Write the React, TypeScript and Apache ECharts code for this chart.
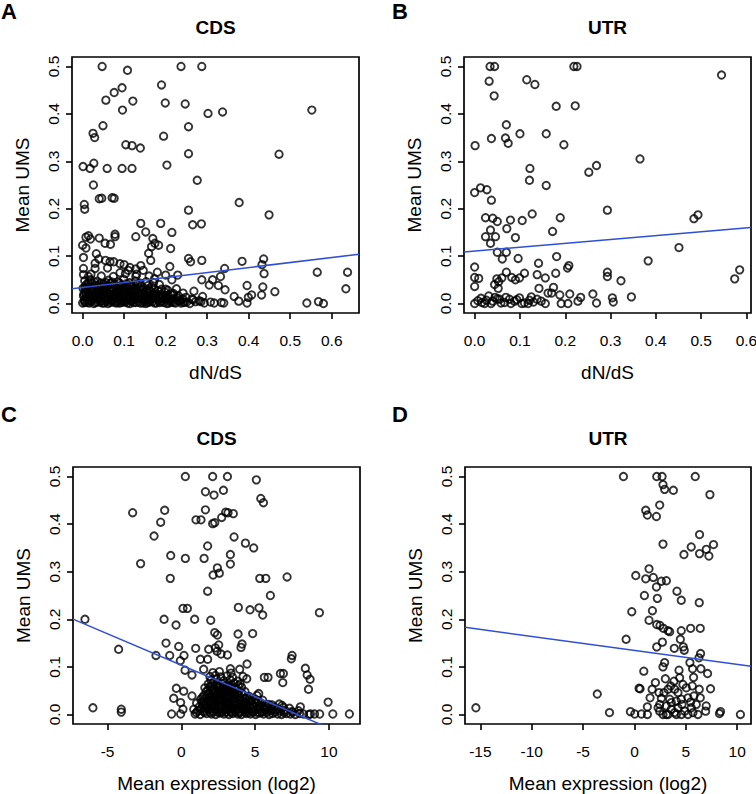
import React, { useEffect, useRef } from "react";
import * as echarts from "echarts";

const FONT = "'Liberation Sans', Arial, Helvetica, sans-serif";

// ---- tick labels / axis ranges ----
const umsTicks = [0, 0.1, 0.2, 0.3, 0.4, 0.5];
const dndsTicks = [0, 0.1, 0.2, 0.3, 0.4, 0.5, 0.6];
const exprTicksC = [-5, 0, 5, 10];
const exprTicksD = [-15, -10, -5, 0, 5, 10];

const umsRange = [-0.02, 0.52];
const dndsRangeA = [-0.0256, 0.6656];
const dndsRangeB = [-0.0235, 0.61];
const exprRangeC = [-7.34, 12.1];
const exprRangeD = [-16.5, 11.35];

// ---- regression fits: [intercept, slope] ----
const fitA = [0.0337, 0.1056];
const fitB = [0.1105, 0.082];
const fitC = [0.1035, -0.01318];
const fitD = [0.1347, -0.00293];

// ---- A: CDS, dN/dS vs Mean UMS ----
const cdsDndsSparse: [number, number][] = [
  [0.047, 0.5], [0.108, 0.492], [0.237, 0.5], [0.287, 0.5], [0.19, 0.461], [0.095, 0.455],
  [0.076, 0.445], [0.056, 0.429], [0.121, 0.427], [0.199, 0.423], [0.247, 0.421], [0.096, 0.408],
  [0.302, 0.401], [0.337, 0.404], [0.552, 0.408], [0.049, 0.375], [0.255, 0.373], [0.025, 0.359],
  [0.029, 0.35], [0.195, 0.353], [0.104, 0.335], [0.119, 0.333], [0.139, 0.328], [0.255, 0.316],
  [0.473, 0.315], [0.001, 0.289], [0.018, 0.285], [0.027, 0.296], [0.059, 0.285], [0.095, 0.285],
  [0.119, 0.285], [0.203, 0.292], [0.276, 0.26], [0.026, 0.25], [0.04, 0.221], [0.046, 0.222],
  [0.071, 0.223], [0.076, 0.222], [0.004, 0.209], [0.005, 0.199], [0.255, 0.197], [0.377, 0.213],
  [0.449, 0.187], [0.14, 0.169], [0.188, 0.169], [0.265, 0.166], [0.286, 0.168], [0.215, 0.15],
  [0.152, 0.151], [0.008, 0.14], [0.014, 0.143], [0.019, 0.136], [0.04, 0.138], [0.078, 0.146],
  [0.078, 0.141], [0.128, 0.141], [0.169, 0.137], [0.174, 0.127], [0.183, 0.123], [0.166, 0.12],
  [0.054, 0.127], [0.067, 0.125], [0.0, 0.123], [0.008, 0.117], [0.212, 0.116], [0.159, 0.106],
  [0.033, 0.105], [0.164, 0.091], [0.002, 0.097], [0.039, 0.094], [0.055, 0.091], [0.066, 0.088],
  [0.075, 0.088], [0.09, 0.084], [0.255, 0.095], [0.26, 0.088], [0.287, 0.091], [0.384, 0.089],
  [0.436, 0.094], [0.432, 0.082], [0.342, 0.074], [0.002, 0.074], [0.03, 0.074], [0.114, 0.076],
  [0.128, 0.073], [0.146, 0.07], [0.21, 0.078], [0.437, 0.063], [0.565, 0.066], [0.638, 0.066],
  [0.002, 0.061], [0.014, 0.057], [0.074, 0.057], [0.103, 0.063], [0.128, 0.057], [0.229, 0.06],
  [0.332, 0.057], [0.313, 0.05], [0.287, 0.05], [0.215, 0.05], [0.173, 0.052], [0.396, 0.038],
  [0.434, 0.035], [0.305, 0.039], [0.327, 0.038], [0.463, 0.025], [0.634, 0.031], [0.343, 0.029],
  [0.365, 0.015], [0.376, 0.005], [0.396, 0.001], [0.399, 0.013], [0.407, 0.018], [0.431, 0.018],
  [0.54, 0.001], [0.568, 0.004], [0.58, 0.0], [0.317, 0.001], [0.34, 0.001], [0.289, 0.015],
  [0.268, 0.026], [0.266, 0.008], [0.246, 0.003],
  [0.02, 0.062], [0.045, 0.058], [0.09, 0.065], [0.11, 0.07], [0.13, 0.062], [0.16, 0.058],
  [0.18, 0.066], [0.2, 0.06], [0.14, 0.08], [0.06, 0.075], [0.03, 0.085], [0.1, 0.082],
];
const cdsDndsDense: [number, number][] = [
  [0.0, 0.001], [0.011, 0.002], [0.027, 0.0], [0.036, 0.003], [0.052, 0.001], [0.061, 0.0],
  [0.077, 0.002], [0.089, 0.001], [0.098, 0.003], [0.114, 0.0], [0.123, 0.002], [0.139, 0.001],
  [0.152, 0.0], [0.161, 0.003], [0.178, 0.001], [0.186, 0.002], [0.203, 0.0], [0.215, 0.003],
  [0.224, 0.001], [0.243, 0.002], [0.258, 0.0], [0.272, 0.004], [0.293, 0.001], [0.308, 0.003],
  [0.334, 0.002],
  [0.005, 0.002], [0.016, 0.001], [0.031, 0.002], [0.047, 0.001], [0.066, 0.002], [0.082, 0.001],
  [0.093, 0.002], [0.108, 0.001], [0.128, 0.002], [0.145, 0.001], [0.157, 0.002], [0.173, 0.001],
  [0.195, 0.002], [0.208, 0.001], [0.219, 0.002], [0.237, 0.001],
  [0.006, 0.004], [0.021, 0.005], [0.042, 0.003], [0.057, 0.005], [0.071, 0.004], [0.084, 0.005],
  [0.103, 0.004], [0.116, 0.005], [0.134, 0.003], [0.148, 0.005], [0.168, 0.004], [0.191, 0.005],
  [0.211, 0.004], [0.232, 0.005], [0.251, 0.003], [0.285, 0.004],
  [0.004, 0.008], [0.018, 0.007], [0.031, 0.01], [0.045, 0.006], [0.058, 0.009], [0.069, 0.008],
  [0.083, 0.011], [0.094, 0.007], [0.107, 0.009], [0.119, 0.006], [0.131, 0.01], [0.146, 0.008],
  [0.157, 0.007], [0.171, 0.011], [0.183, 0.006], [0.196, 0.009], [0.209, 0.008], [0.221, 0.01],
  [0.236, 0.007], [0.263, 0.009], [0.281, 0.006],
  [0.01, 0.01], [0.026, 0.009], [0.04, 0.01], [0.053, 0.011], [0.072, 0.01], [0.087, 0.009],
  [0.1, 0.01], [0.113, 0.011], [0.127, 0.009], [0.141, 0.01], [0.16, 0.009], [0.176, 0.01],
  [0.19, 0.011], [0.215, 0.009], [0.241, 0.01],
  [0.009, 0.012], [0.024, 0.011], [0.038, 0.013], [0.05, 0.012], [0.064, 0.011], [0.076, 0.013],
  [0.088, 0.012], [0.111, 0.011], [0.124, 0.013], [0.137, 0.012], [0.151, 0.011], [0.164, 0.013],
  [0.188, 0.012], [0.201, 0.011], [0.227, 0.012],
  [0.002, 0.016], [0.014, 0.018], [0.029, 0.015], [0.041, 0.017], [0.055, 0.014], [0.066, 0.019],
  [0.079, 0.016], [0.092, 0.015], [0.104, 0.018], [0.117, 0.016], [0.128, 0.014], [0.142, 0.019],
  [0.155, 0.016], [0.167, 0.015], [0.181, 0.017], [0.193, 0.014], [0.206, 0.018], [0.231, 0.016],
  [0.249, 0.013],
  [0.008, 0.018], [0.022, 0.017], [0.036, 0.019], [0.05, 0.018], [0.071, 0.017], [0.085, 0.018],
  [0.098, 0.017], [0.112, 0.019], [0.122, 0.018], [0.135, 0.017], [0.16, 0.018], [0.174, 0.019],
  [0.199, 0.017], [0.218, 0.018],
  [0.003, 0.02], [0.017, 0.021], [0.033, 0.019], [0.046, 0.02], [0.063, 0.021], [0.075, 0.02],
  [0.097, 0.021], [0.109, 0.019], [0.132, 0.02], [0.144, 0.021], [0.17, 0.02], [0.188, 0.019],
  [0.212, 0.02],
  [0.007, 0.024], [0.021, 0.026], [0.034, 0.023], [0.048, 0.025], [0.06, 0.022], [0.073, 0.027],
  [0.086, 0.024], [0.101, 0.023], [0.112, 0.026], [0.125, 0.024], [0.137, 0.022], [0.149, 0.025],
  [0.162, 0.027], [0.175, 0.023], [0.198, 0.024], [0.219, 0.021], [0.242, 0.022],
  [0.012, 0.028], [0.025, 0.029], [0.039, 0.027], [0.053, 0.028], [0.065, 0.029], [0.091, 0.028],
  [0.117, 0.027], [0.129, 0.029], [0.155, 0.028], [0.181, 0.027], [0.205, 0.028],
  [0.006, 0.03], [0.022, 0.03], [0.035, 0.029], [0.05, 0.031], [0.076, 0.03], [0.087, 0.029],
  [0.102, 0.03], [0.115, 0.029], [0.128, 0.031], [0.141, 0.03], [0.16, 0.029], [0.2, 0.03],
  [0.001, 0.032], [0.016, 0.034], [0.028, 0.031], [0.043, 0.033], [0.056, 0.03], [0.07, 0.035],
  [0.081, 0.032], [0.096, 0.031], [0.109, 0.034], [0.121, 0.03], [0.135, 0.033], [0.147, 0.031],
  [0.172, 0.032], [0.19, 0.03], [0.226, 0.031],
  [0.006, 0.036], [0.032, 0.037], [0.047, 0.036], [0.062, 0.037], [0.088, 0.036], [0.113, 0.037],
  [0.141, 0.036], [0.166, 0.035],
  [0.009, 0.04], [0.024, 0.042], [0.038, 0.039], [0.051, 0.041], [0.067, 0.043], [0.078, 0.04],
  [0.093, 0.038], [0.106, 0.042], [0.118, 0.039], [0.133, 0.041], [0.158, 0.038], [0.185, 0.04],
  [0.014, 0.044], [0.029, 0.045], [0.044, 0.043], [0.057, 0.044], [0.072, 0.045], [0.089, 0.043],
  [0.113, 0.044], [0.139, 0.043], [0.171, 0.044],
  [0.005, 0.048], [0.019, 0.05], [0.035, 0.047], [0.062, 0.049], [0.085, 0.046], [0.099, 0.051],
  [0.127, 0.047], [0.153, 0.046],
];

// ---- B: UTR, dN/dS vs Mean UMS ----
const utrDndsPoints: [number, number][] = [
  [0.034, 0.5], [0.044, 0.5], [0.032, 0.469], [0.043, 0.438], [0.115, 0.472], [0.133, 0.462],
  [0.219, 0.5], [0.226, 0.5], [0.545, 0.482], [0.18, 0.416], [0.222, 0.417], [0.07, 0.377],
  [0.037, 0.348], [0.068, 0.349], [0.074, 0.338], [0.1, 0.358], [0.158, 0.358], [0.197, 0.335],
  [0.001, 0.333], [0.365, 0.305], [0.122, 0.285], [0.121, 0.26], [0.158, 0.249], [0.252, 0.277],
  [0.269, 0.291], [0.0, 0.234], [0.013, 0.244], [0.027, 0.24], [0.037, 0.218], [0.293, 0.197],
  [0.024, 0.181], [0.04, 0.18], [0.05, 0.173], [0.079, 0.176], [0.105, 0.175], [0.127, 0.189],
  [0.189, 0.181], [0.071, 0.158], [0.035, 0.155], [0.024, 0.141], [0.046, 0.141], [0.035, 0.127],
  [0.09, 0.139], [0.172, 0.152], [0.484, 0.179], [0.493, 0.187], [0.451, 0.118], [0.383, 0.09],
  [0.585, 0.071], [0.574, 0.052], [0.05, 0.108], [0.07, 0.108], [0.061, 0.094], [0.096, 0.095],
  [0.181, 0.099], [0.141, 0.085], [0.0, 0.077], [0.0, 0.055], [0.009, 0.053], [0.0, 0.036],
  [0.07, 0.066], [0.11, 0.064], [0.138, 0.061], [0.179, 0.064], [0.205, 0.075], [0.208, 0.08],
  [0.293, 0.066], [0.293, 0.057], [0.323, 0.048], [0.049, 0.052], [0.053, 0.046], [0.06, 0.054],
  [0.082, 0.055], [0.09, 0.05], [0.099, 0.054], [0.044, 0.04], [0.052, 0.032], [0.156, 0.054],
  [0.142, 0.032], [0.162, 0.022], [0.174, 0.034], [0.17, 0.022], [0.188, 0.018], [0.21, 0.02],
  [0.234, 0.013], [0.261, 0.02], [0.346, 0.014], [0.304, 0.012], [0.306, 0.003], [0.228, 0.005],
  [0.269, 0.001], [0.156, 0.0], [0.191, 0.0], [0.206, 0.0],
  [0.0, 0.0], [0.007, 0.006], [0.016, 0.002], [0.026, 0.007], [0.031, 0.016], [0.04, 0.005],
  [0.05, 0.01], [0.058, 0.001], [0.069, 0.013], [0.08, 0.0], [0.088, 0.005], [0.099, 0.012],
  [0.11, 0.001], [0.121, 0.007], [0.13, 0.003], [0.138, 0.009], [0.147, 0.005], [0.066, 0.002],
  [0.022, 0.0], [0.036, 0.0], [0.055, 0.009], [0.077, 0.009], [0.104, 0.0], [0.118, 0.0],
  [0.125, 0.014], [0.014, 0.011], [0.045, 0.013], [0.093, 0.008],
];

// ---- C: CDS, Mean expression (log2) vs Mean UMS ----
const cdsExprSparse: [number, number][] = [
  [0.27, 0.5], [2.12, 0.5], [3.12, 0.5], [5.08, 0.493], [1.63, 0.468], [2.21, 0.461], [2.85, 0.471],
  [5.38, 0.454], [5.56, 0.445], [-3.3, 0.424], [-1.13, 0.429], [-1.4, 0.404], [0.99, 0.409],
  [1.33, 0.409], [1.63, 0.43], [2.12, 0.401], [2.26, 0.403], [2.73, 0.414], [3.0, 0.425],
  [3.16, 0.424], [3.52, 0.422], [-1.85, 0.375], [3.57, 0.373], [1.78, 0.354], [4.34, 0.36],
  [4.9, 0.35], [-2.76, 0.317], [-0.72, 0.334], [0.27, 0.328], [1.54, 0.328], [3.32, 0.336],
  [3.32, 0.316], [2.44, 0.308], [2.57, 0.297], [2.15, 0.293], [-0.75, 0.286], [5.31, 0.286],
  [5.72, 0.286], [7.16, 0.289], [1.78, 0.259], [6.03, 0.25], [0.11, 0.223], [0.41, 0.223],
  [3.86, 0.225], [4.65, 0.22], [5.26, 0.224], [5.51, 0.209], [9.35, 0.214], [-6.53, 0.2],
  [-1.17, 0.2], [0.9, 0.2], [1.99, 0.198], [-0.36, 0.188], [2.26, 0.172], [2.44, 0.167],
  [3.84, 0.169], [4.83, 0.17], [-1.04, 0.15], [-4.25, 0.137], [-1.72, 0.124], [-0.79, 0.124],
  [-0.18, 0.143], [0.18, 0.124], [0.97, 0.139], [1.85, 0.137], [2.3, 0.14], [2.53, 0.146],
  [2.42, 0.133], [2.69, 0.127], [3.12, 0.125], [4.11, 0.148], [4.04, 0.141], [7.5, 0.124],
  [7.45, 0.117], [-0.07, 0.113], [1.29, 0.116], [1.78, 0.116], [4.45, 0.106], [8.4, 0.097],
  [8.52, 0.083], [8.72, 0.074], [8.61, 0.053], [6.71, 0.086], [6.91, 0.086], [6.87, 0.067],
  [5.62, 0.078], [5.87, 0.078], [0.25, 0.093], [0.72, 0.083], [1.51, 0.095], [3.32, 0.096],
  [3.95, 0.095], [4.43, 0.075], [-0.34, 0.055], [0.16, 0.049], [-0.52, 0.034], [-0.05, 0.025],
  [0.72, 0.039], [0.84, 0.011], [-0.66, 0.001], [-0.05, 0.001], [0.11, 0.011], [-5.99, 0.014],
  [-4.07, 0.011], [-4.07, 0.005], [9.94, 0.026], [10.26, 0.001], [11.38, 0.001], [9.37, 0.001],
  [8.06, 0.016], [8.74, 0.001], [5.24, 0.044], [6.82, 0.019],
];
const cdsExprDense: [number, number][] = [
  [0.93, 0.001], [1.28, 0.0], [1.71, 0.002], [2.04, 0.001], [2.33, 0.0], [2.61, 0.003], [2.88, 0.001],
  [3.22, 0.0], [3.49, 0.002], [3.83, 0.001], [4.07, 0.0], [4.42, 0.002], [4.68, 0.001], [5.03, 0.0],
  [5.31, 0.003], [5.57, 0.001], [5.94, 0.0], [6.18, 0.002], [6.52, 0.001], [6.79, 0.0], [7.13, 0.002],
  [7.38, 0.001], [7.72, 0.0], [8.01, 0.002], [8.27, 0.001], [8.63, 0.0], [9.02, 0.001],
  [1.02, 0.004], [1.55, 0.005], [1.96, 0.004], [2.47, 0.005], [2.75, 0.004], [3.05, 0.005],
  [3.38, 0.004], [3.71, 0.005], [3.97, 0.004], [4.31, 0.005], [4.57, 0.004], [4.88, 0.005],
  [5.18, 0.004], [5.46, 0.005], [5.79, 0.004], [6.33, 0.005], [6.96, 0.004], [7.55, 0.005],
  [1.12, 0.008], [1.47, 0.007], [1.83, 0.01], [2.14, 0.006], [2.41, 0.009], [2.73, 0.008],
  [2.97, 0.011], [3.34, 0.007], [3.62, 0.009], [3.91, 0.006], [4.23, 0.01], [4.51, 0.008],
  [4.79, 0.007], [5.12, 0.011], [5.43, 0.006], [5.71, 0.009], [6.04, 0.008], [6.38, 0.01],
  [6.71, 0.007], [7.02, 0.009], [7.48, 0.006], [7.93, 0.008],
  [1.35, 0.012], [1.65, 0.013], [2.08, 0.012], [2.37, 0.011], [2.67, 0.013], [3.03, 0.012],
  [3.27, 0.011], [3.57, 0.013], [3.86, 0.012], [4.17, 0.011], [4.46, 0.013], [4.84, 0.012],
  [5.27, 0.011], [5.64, 0.013], [6.12, 0.012], [6.58, 0.011],
  [1.21, 0.016], [1.58, 0.018], [1.92, 0.015], [2.19, 0.017], [2.52, 0.014], [2.81, 0.019],
  [3.09, 0.016], [3.41, 0.015], [3.72, 0.018], [4.02, 0.016], [4.28, 0.014], [4.63, 0.019],
  [4.91, 0.016], [5.22, 0.015], [5.52, 0.017], [5.83, 0.014], [6.29, 0.016], [6.91, 0.015],
  [7.32, 0.013],
  [1.45, 0.02], [1.77, 0.021], [2.07, 0.019], [2.36, 0.02], [2.69, 0.021], [2.98, 0.02],
  [3.29, 0.019], [3.63, 0.021], [3.97, 0.02], [4.45, 0.019], [4.83, 0.021], [5.31, 0.02],
  [5.71, 0.019], [6.14, 0.02],
  [1.03, 0.024], [1.39, 0.026], [1.68, 0.023], [2.02, 0.025], [2.29, 0.022], [2.63, 0.027],
  [2.92, 0.024], [3.18, 0.023], [3.53, 0.026], [3.79, 0.024], [4.12, 0.022], [4.39, 0.025],
  [4.72, 0.027], [5.04, 0.023], [5.38, 0.024], [5.92, 0.021], [6.63, 0.022],
  [1.52, 0.028], [1.83, 0.029], [2.13, 0.027], [2.41, 0.028], [2.71, 0.029], [3.02, 0.028],
  [3.31, 0.027], [3.61, 0.029], [3.95, 0.028], [4.26, 0.027], [4.67, 0.028], [5.21, 0.029],
  [1.31, 0.032], [1.62, 0.034], [1.88, 0.031], [2.23, 0.033], [2.48, 0.03], [2.79, 0.035],
  [3.12, 0.032], [3.44, 0.031], [3.68, 0.034], [4.03, 0.03], [4.33, 0.033], [4.61, 0.031],
  [5.02, 0.032], [5.51, 0.03],
  [1.44, 0.036], [2.01, 0.037], [2.36, 0.036], [2.62, 0.035], [2.95, 0.036], [3.22, 0.037],
  [3.55, 0.036], [3.86, 0.035], [4.44, 0.036],
  [1.52, 0.04], [1.79, 0.042], [2.11, 0.039], [2.42, 0.041], [2.69, 0.043], [3.01, 0.04],
  [3.28, 0.038], [3.61, 0.042], [3.93, 0.039], [4.22, 0.041], [4.58, 0.038], [5.12, 0.04],
  [1.86, 0.044], [2.19, 0.045], [2.52, 0.043], [2.85, 0.044], [3.17, 0.045], [3.45, 0.043],
  [3.77, 0.044], [4.07, 0.045],
  [1.68, 0.048], [2.03, 0.05], [2.32, 0.047], [2.61, 0.049], [2.94, 0.046], [3.24, 0.051],
  [3.51, 0.047], [3.84, 0.046], [4.31, 0.048],
  [1.81, 0.052], [2.14, 0.053], [2.47, 0.051], [2.77, 0.052], [3.07, 0.053], [3.41, 0.051],
  [3.68, 0.052],
  [1.59, 0.056], [1.91, 0.058], [2.21, 0.055], [2.49, 0.057], [2.83, 0.054], [3.13, 0.059],
  [3.38, 0.056], [3.72, 0.055], [4.08, 0.057],
  [2.05, 0.06], [2.35, 0.061], [2.66, 0.06], [2.97, 0.061], [3.31, 0.06], [3.85, 0.061],
  [1.82, 0.064], [2.12, 0.066], [2.43, 0.063], [2.78, 0.065], [3.19, 0.062], [3.58, 0.066],
  [3.98, 0.064],
  [2.01, 0.072], [2.38, 0.074], [2.87, 0.071], [3.29, 0.073], [3.81, 0.07],
  [1.93, 0.08], [2.31, 0.082], [2.68, 0.079], [3.08, 0.081], [3.47, 0.078], [4.18, 0.08],
  [2.13, 0.088], [2.58, 0.09], [3.36, 0.087],
];

// ---- D: UTR, Mean expression (log2) vs Mean UMS ----
const utrExprPoints: [number, number][] = [
  [-1.07, 0.5], [2.17, 0.5], [2.69, 0.5], [5.92, 0.5], [2.78, 0.483], [2.94, 0.473], [3.79, 0.471],
  [7.35, 0.462], [2.46, 0.44], [1.1, 0.429], [1.26, 0.419], [2.14, 0.416], [6.34, 0.378],
  [2.78, 0.358], [5.53, 0.352], [6.34, 0.338], [4.82, 0.336], [7.0, 0.347], [7.7, 0.357],
  [7.25, 0.333], [1.42, 0.306], [0.13, 0.292], [1.1, 0.285], [1.84, 0.288], [2.62, 0.28],
  [3.11, 0.281], [2.14, 0.268], [4.14, 0.259], [0.97, 0.25], [2.23, 0.244], [4.56, 0.24],
  [6.31, 0.235], [1.75, 0.218], [-0.26, 0.216], [1.42, 0.198], [2.17, 0.189], [2.49, 0.187],
  [2.82, 0.181], [3.27, 0.176], [3.43, 0.174], [4.56, 0.176], [5.47, 0.181], [6.41, 0.181],
  [-0.81, 0.158], [2.72, 0.152], [2.17, 0.142], [3.88, 0.139], [4.47, 0.158], [4.76, 0.142],
  [4.85, 0.135], [6.44, 0.128], [6.28, 0.119], [5.4, 0.109], [2.94, 0.109], [2.78, 0.1],
  [0.91, 0.091], [4.34, 0.093], [5.66, 0.096], [6.47, 0.096], [5.76, 0.078], [7.12, 0.086],
  [-3.62, 0.043], [-15.44, 0.014], [-2.43, 0.004], [-0.39, 0.006], [0.03, 0.001], [0.68, 0.001],
  [1.26, 0.0], [8.28, 0.002], [8.38, 0.006], [10.32, 0.0], [0.45, 0.055], [0.55, 0.054],
  [7.41, 0.054], [1.72, 0.053], [1.52, 0.035], [1.26, 0.016], [2.04, 0.067], [2.39, 0.046],
  [2.62, 0.034], [3.01, 0.075], [3.53, 0.06], [3.27, 0.053], [3.85, 0.07], [4.4, 0.077],
  [4.72, 0.063], [5.05, 0.056], [5.63, 0.06], [4.24, 0.046], [5.21, 0.035], [5.79, 0.039],
  [6.31, 0.053], [6.41, 0.035], [6.99, 0.018], [6.93, 0.007], [6.02, 0.021], [5.47, 0.026],
  [2.46, 0.021], [2.3, 0.014], [2.46, 0.007], [2.78, 0.0], [3.27, 0.0], [3.59, 0.011],
  [3.92, 0.004], [4.24, 0.014], [4.56, 0.0], [4.89, 0.007], [5.21, 0.0], [5.7, 0.004],
  [6.18, 0.0], [3.59, 0.025], [4.08, 0.028], [4.63, 0.021], [3.11, 0.018], [3.43, 0.032],
  [2.88, 0.046], [3.92, 0.053], [4.56, 0.032], [3.11, 0.0], [4.08, 0.0], [5.53, 0.014],
];

const panelLetters = ["A", "B", "C", "D"];
const panelTitles = ["CDS", "UTR", "CDS", "UTR"];
const xNames = ["dN/dS", "dN/dS", "Mean expression (log2)", "Mean expression (log2)"];
const yName = "Mean UMS";

export default function App() {
  const ref = useRef<HTMLDivElement>(null);

  useEffect(() => {
    if (!ref.current) return;
    const chart = echarts.init(ref.current, null, { renderer: "svg" });

    const grids = [
      { left: 72, top: 57, width: 287, height: 256 },
      { left: 464, top: 57, width: 287, height: 256 },
      { left: 73, top: 467, width: 287, height: 257 },
      { left: 465, top: 467, width: 286, height: 257 },
    ];
    const xRanges = [dndsRangeA, dndsRangeB, exprRangeC, exprRangeD];
    const xTicks = [dndsTicks, dndsTicks, exprTicksC, exprTicksD];
    const fits = [fitA, fitB, fitC, fitD];
    const pointSets = [
      [...cdsDndsSparse, ...cdsDndsDense],
      utrDndsPoints,
      [...cdsExprSparse, ...cdsExprDense],
      utrExprPoints,
    ];

    const txt = { color: "#000", fontFamily: FONT };

    const xAxes = grids.map((_, i) => ({
      type: "value",
      gridIndex: i,
      min: xRanges[i][0],
      max: xRanges[i][1],
      axisLine: { show: false, onZero: false },
      splitLine: { show: false },
      axisTick: {
        show: true,
        customValues: xTicks[i],
        length: 6,
        lineStyle: { color: "#000", width: 1.6 },
      },
      axisLabel: {
        show: true,
        customValues: xTicks[i],
        formatter: (v: number) => (i < 2 ? v.toFixed(1) : String(v)),
        margin: 19,
        fontSize: 15.5,
        ...txt,
      },
      name: xNames[i],
      nameLocation: "middle",
      nameGap: 50,
      nameTextStyle: { fontSize: 19, ...txt },
    }));

    const yAxes = grids.map((_, i) => ({
      type: "value",
      gridIndex: i,
      min: umsRange[0],
      max: umsRange[1],
      axisLine: { show: false, onZero: false },
      splitLine: { show: false },
      axisTick: {
        show: true,
        customValues: umsTicks,
        length: 6,
        lineStyle: { color: "#000", width: 1.6 },
      },
      axisLabel: {
        show: true,
        customValues: umsTicks,
        rotate: 90,
        formatter: (v: number) => v.toFixed(1),
        margin: 11,
        fontSize: 15.5,
        ...txt,
      },
      name: yName,
      nameLocation: "middle",
      nameGap: 40,
      nameTextStyle: { fontSize: 19, ...txt },
    }));

    const series: any[] = [];
    grids.forEach((_, i) => {
      series.push({
        type: "scatter",
        xAxisIndex: i,
        yAxisIndex: i,
        data: pointSets[i],
        symbol: "circle",
        symbolSize: 7.4,
        silent: true,
        itemStyle: { color: "rgba(0,0,0,0)", borderColor: "#000", borderWidth: 1.9 },
      });
      const [a, b] = fits[i];
      const [x0, x1] = xRanges[i];
      series.push({
        type: "line",
        xAxisIndex: i,
        yAxisIndex: i,
        data: [
          [x0, a + b * x0],
          [x1, a + b * x1],
        ],
        showSymbol: false,
        symbol: "none",
        clip: true,
        silent: true,
        lineStyle: { color: "#2f4fd6", width: 1.5 },
        z: 5,
      });
    });

    const letterPos = [
      [1, 11.5],
      [392, 11.5],
      [1, 414],
      [392, 414],
    ];
    const titlePos = [
      [215.5, 27],
      [607.5, 27],
      [216.5, 438],
      [608, 438],
    ];
    const graphic: any[] = [];
    panelLetters.forEach((l, i) => {
      graphic.push({
        type: "text",
        x: letterPos[i][0],
        y: letterPos[i][1],
        style: {
          text: l,
          font: `bold 22px ${FONT}`,
          fill: "#000",
          textAlign: "left",
          textVerticalAlign: "middle",
        },
      });
      graphic.push({
        type: "text",
        x: titlePos[i][0],
        y: titlePos[i][1],
        style: {
          text: panelTitles[i],
          font: `bold 19px ${FONT}`,
          fill: "#000",
          textAlign: "center",
          textVerticalAlign: "middle",
        },
      });
    });

    chart.setOption({
      animation: false,
      backgroundColor: "#fff",
      grid: grids.map((g) => ({
        ...g,
        show: true,
        borderColor: "#000",
        borderWidth: 1.7,
        backgroundColor: "rgba(0,0,0,0)",
        containLabel: false,
        outerBoundsMode: "none",
      })),
      xAxis: xAxes,
      yAxis: yAxes,
      series,
      graphic,
    } as any);

    return () => chart.dispose();
  }, []);

  return (
    <div
      ref={ref}
      style={{ position: "absolute", left: 0, top: 0, width: 756, height: 794 }}
    />
  );
}
